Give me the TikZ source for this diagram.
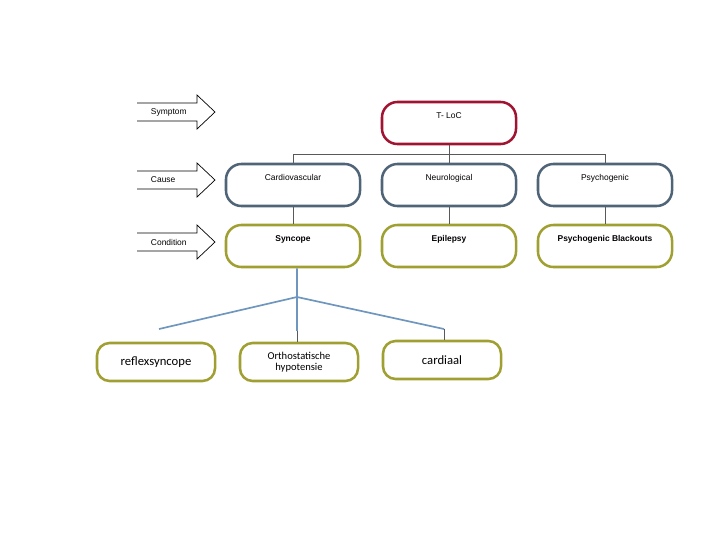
\documentclass[tikz,border=0pt]{standalone}
\usepackage{fontspec}
\setmainfont{Liberation Sans}
\newfontfamily\calib{Carlito}
\usetikzlibrary{positioning}
\definecolor{tlocred}{RGB}{160,20,50}
\definecolor{causeblue}{RGB}{80,100,120}
\definecolor{condolive}{RGB}{160,160,50}
\definecolor{linkblue}{RGB}{110,150,190}
\tikzset{%
    every box/.style={
        rectangle,
        draw,
        line width=1.8pt,
        rounded corners=11pt,
        minimum width=3.35cm,
        minimum height=1.05cm,
        font=\fontsize{6}{7}\selectfont,
        text height=5pt,
        text depth=11pt
    },
    box symptom/.style={draw=tlocred},
    box cause/.style={draw=causeblue},
    box condition/.style={draw=condolive, font=\fontsize{6}{7}\selectfont\bfseries},
    sub box/.style={
        rectangle,
        draw=condolive,
        line width=1.8pt,
        rounded corners=9pt,
        minimum width=2.95cm,
        minimum height=0.95cm,
        align=center
    },
    level arrow/.style={
        draw,
        line width=0.5pt
    },
    link/.style={draw=gray!70!black, line width=0.6pt},
    sublink/.style={draw=linkblue, line width=1.2pt}
}
\begin{document}
\begin{tikzpicture}[x=0.025cm, y=-0.025cm]
    \useasboundingbox (0,0) rectangle (720,540);

    % level arrows
    \foreach \t/\y in {Symptom/112, Cause/180, Condition/242}{
        \draw [level arrow] (137,\y-9) -- (197,\y-9) -- (197,\y-17) -- (215,\y)
            -- (197,\y+17) -- (197,\y+9) -- (137,\y+9);
        \node [font=\fontsize{6}{7}\selectfont, anchor=west] (lbl-\t) at (146,\y) {\t};
    }

    % boxes
    \node [every box, box symptom] (tloc) at (449,123) {T- LoC};
    \foreach \m/\x [count=\i] in {Cardiovascular/293, Neurological/449, Psychogenic/605}
        \node [every box, box cause] (cause-\i) at (\x,185) {\m};
    \foreach \m/\x [count=\i] in {Syncope/293, Epilepsy/449, Psychogenic Blackouts/605}
        \node [every box, box condition] (cond-\i) at (\x,246) {\m};

    % connectors
    \coordinate (split) at (449,154);
    \draw [link] (tloc.south) -- (split);
    \draw [link] (cause-1.north) |- (cause-3.north |- split) -- (cause-3.north);
    \draw [link] (split) -- (cause-2.north);
    \foreach \i in {1,2,3}
        \draw [link] (cause-\i) -- (cond-\i);

    % syncope subtypes
    \node [sub box, font=\calib\fontsize{9}{10}\selectfont] (sub-1) at (156,362) {reflexsyncope};
    \node [sub box, font=\calib\fontsize{7.5}{8}\selectfont] (sub-2) at (299,362) {Orthostatische\\hypotensie};
    \node [sub box, font=\calib\fontsize{9}{10}\selectfont] (sub-3) at (442,360) {cardiaal};

    \coordinate (apex) at (297,297);
    \coordinate (left-end) at (159,329);
    \coordinate (mid-end) at (297,331);
    \coordinate (right-end) at (444,329);
    \draw [sublink] (cond-1.south -| apex) -- (apex) -- (left-end);
    \draw [sublink] (apex) -- (mid-end);
    \draw [sublink] (apex) -- (right-end);
    \draw [link] (mid-end) -- (sub-2.north -| mid-end);
    \draw [link] (right-end) -- (sub-3.north -| right-end);
\end{tikzpicture}
\end{document}
